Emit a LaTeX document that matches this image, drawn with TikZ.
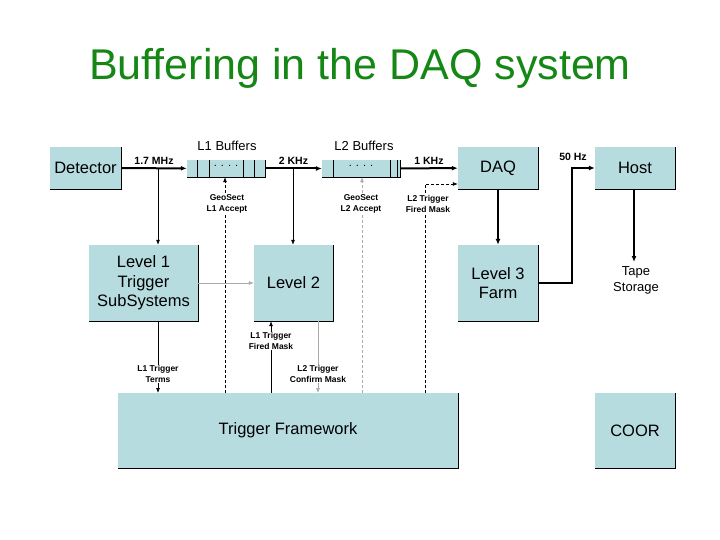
\documentclass[tikz,border=0pt]{standalone}
\usepackage{fontspec}
\setmainfont{Liberation Sans}
\usetikzlibrary{arrows.meta}
\definecolor{boxc}{RGB}{182,220,224}
\definecolor{titleg}{RGB}{20,135,20}
\definecolor{lgray}{RGB}{170,170,170}
\tikzset{
  box/.style={fill=boxc, draw=none, inner sep=0pt, align=center, font=\fontsize{16.5}{19.5}\selectfont},
  lbl/.style={font=\bfseries\fontsize{8.5}{10.5}\selectfont, align=center, fill=white, inner sep=1pt},
  rate/.style={font=\bfseries\fontsize{10.5}{12}\selectfont, inner sep=1pt},
  thick line/.style={line width=2pt, -{Latex[length=6pt,width=5pt]}},
  thin line/.style={line width=0.7pt, -{Latex[length=5pt,width=4pt]}},
  gray line/.style={line width=0.7pt, lgray, -{Latex[length=5pt,width=4pt]}},
  dash line/.style={line width=0.7pt, dash pattern=on 3pt off 2pt, -{Latex[length=5pt,width=4pt]}}
}
\begin{document}
\begin{tikzpicture}[x=1pt,y=-1pt]
\useasboundingbox (0,0) rectangle (720,540);

\node[font=\fontsize{43}{48}\selectfont, text=titleg] (title) at (360,68) {Buffering in the DAQ system};

% boxes
\node[box, minimum width=71, minimum height=42] (det) at (85.5,168) {Detector};
\node[box, minimum width=78, minimum height=17] (b1) at (226,168.5) {};
\node[box, minimum width=78, minimum height=17] (b2) at (361,168.5) {};
\node[box, minimum width=80, minimum height=42] (daq) at (498,168) {DAQ};
\node[box, minimum width=80, minimum height=42] (host) at (635,168) {Host};
\node[box, minimum width=109, minimum height=76] (l1) at (143.5,283) {Level 1\\Trigger\\SubSystems};
\node[box, minimum width=79, minimum height=76] (l2) at (293.5,283) {Level 2};
\node[box, minimum width=80, minimum height=76] (l3) at (498,283) {Level 3\\Farm};
\node[box, minimum width=340, minimum height=75] (tf) at (288,430.5) {Trigger Framework};
\node[box, minimum width=80, minimum height=75] (coor) at (635,430.5) {COOR};

\foreach \n in {det,b1,b2,daq,host,l1,l2,l3,tf,coor}
  \draw[line width=0.8pt] (\n.north east) -- (\n.south east) -- (\n.south west);

% buffer cells
\foreach \x in {197,209,243,254}
  \draw[line width=0.6pt] (\x,160) -- (\x,177);
\foreach \x in {333,390,397}
  \draw[line width=0.6pt] (\x,160) -- (\x,177);
\node[font=\fontsize{11}{11}\selectfont, inner sep=0pt] (d1) at (226,166) {. . . .};
\node[font=\fontsize{11}{11}\selectfont, inner sep=0pt] (d2) at (361,166) {. . . .};

\node[font=\fontsize{13}{15}\selectfont] (t1) at (227,146) {L1 Buffers};
\node[font=\fontsize{13}{15}\selectfont] (t2) at (364,146) {L2 Buffers};

% main data path
\draw[thick line] (det) -- node[rate, above=2pt] {1.7 MHz} (b1);
\draw[thick line] (b1) -- node[rate, above=2pt] {2 KHz} (b2);
\draw[thick line] (b2) -- node[rate, above=2pt] {1 KHz} (daq);
\draw[thick line] (daq) -- (l3);
\coordinate (c1) at (572,283);
\coordinate (c2) at (572,168);
\draw[thick line] (l3.east |- c1) -- (c1) -- (c2) -- (host);
\node[rate] (hz) at (573,157) {50 Hz};
\coordinate (tape) at (634,262);
\draw[thick line] (host.south -| tape) -- (tape);
\node[align=center, font=\fontsize{13}{16}\selectfont] (ts) at (636,280) {Tape\\Storage};

% branches
\coordinate (br1) at (158,168);
\coordinate (br2) at (293,168);
\draw[thin line] (br1) -- (l1.north -| br1);
\draw[thin line] (br2) -- (l2.north -| br2);
\draw[gray line] (l1.east) -- (l2.west);

% dashed signals
\coordinate (g1) at (225,393);
\coordinate (g2) at (362,393);
\coordinate (g3) at (425,393);
\coordinate (g4) at (425,184);
\draw[dash line] (g1) -- (b1.south -| g1);
\draw[dash line, lgray] (g2) -- (b2.south -| g2);
\draw[dash line] (g3) -- (g4) -- (daq.west |- g4);
\node[lbl] (a1) at (227,204) {GeoSect\\L1 Accept};
\node[lbl] (a2) at (361,204) {GeoSect\\L2 Accept};
\node[lbl] (a3) at (428,204) {L2 Trigger\\Fired Mask};

% trigger framework links
\coordinate (f1) at (158,393);
\coordinate (f2) at (271,393);
\coordinate (f3) at (318,393);
\draw[thin line] (l1.south -| f1) -- (f1);
\draw[thin line] (f2) -- (l2.south -| f2);
\draw[gray line] (l2.south -| f3) -- (f3);
\node[lbl] (a4) at (158,374) {L1 Trigger\\Terms};
\node[lbl] (a5) at (271,341) {L1 Trigger\\Fired Mask};
\node[lbl] (a6) at (318,374) {L2 Trigger\\Confirm Mask};
\end{tikzpicture}
\end{document}
